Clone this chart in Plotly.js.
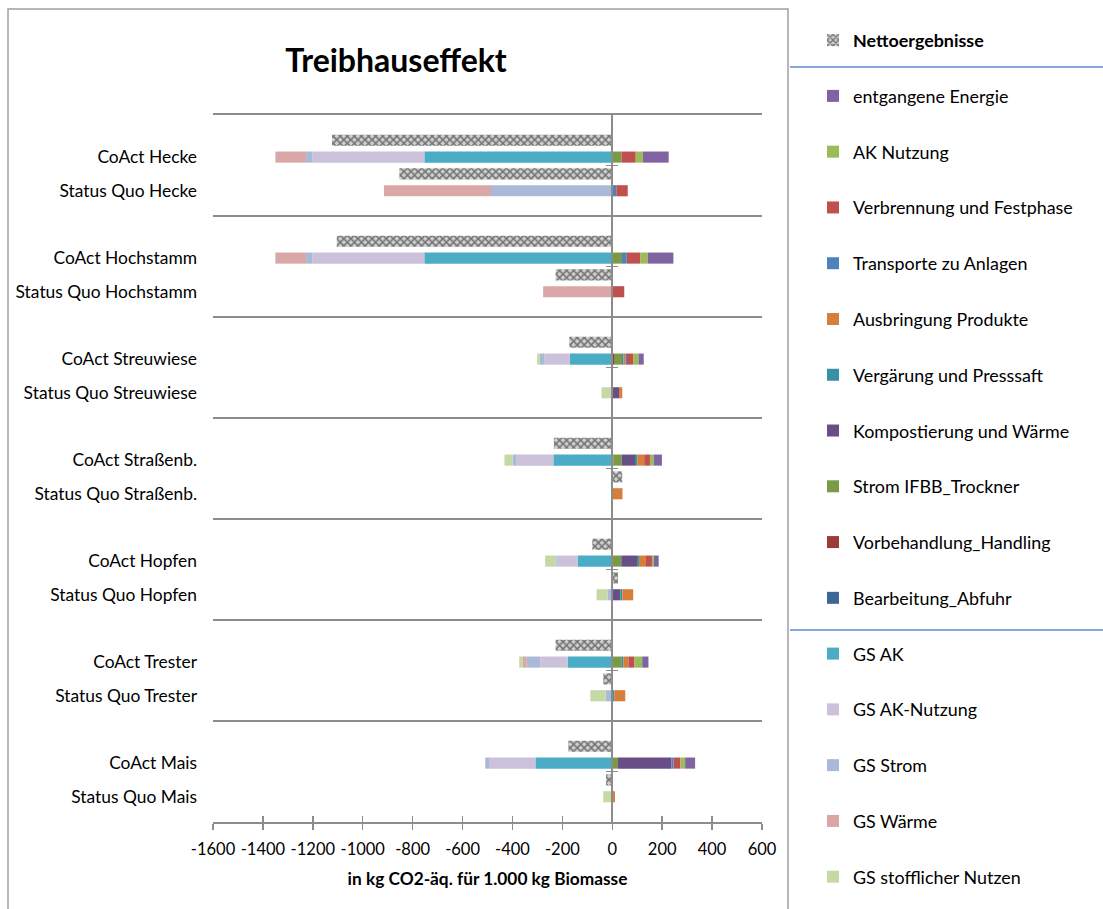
<!DOCTYPE html>
<html><head><meta charset="utf-8">
<script src="https://cdn.plot.ly/plotly-3.0.1.min.js"></script>
<style>html,body{margin:0;padding:0;background:#fff}#chart{width:1103px;height:909px}</style>
</head><body><div id="chart"></div>
<script>
// ---- data (kg CO2-äq. für 1.000 kg Biomasse) ----
const groups = ['Hecke','Hochstamm','Streuwiese','Straßenb.','Hopfen','Trester','Mais'];
const scenarios = ['CoAct Hecke','Status Quo Hecke','CoAct Hochstamm','Status Quo Hochstamm',
  'CoAct Streuwiese','Status Quo Streuwiese','CoAct Straßenb.','Status Quo Straßenb.',
  'CoAct Hopfen','Status Quo Hopfen','CoAct Trester','Status Quo Trester','CoAct Mais','Status Quo Mais'];
const netto       = [-1123,-853,-1104,-227,-172,-1,-234,40,-80,23,-227,-36,-176,-25];
const bearbeitung = [0,0,0,0,0,0,0,0,0,0,0,0,0,0];
const vorbehandlung=[0,0,0,0,7,0,5,0,0,0,0,0,0,0];
const stromIFBB   = [37,0,39,0,32,0,33,0,36,0,36,0,23,0];
const kompost     = [0,0,0,0,0,27,53,0,63,32,0,0,214,0];
const vergaerung  = [0,0,0,0,6,0,9,0,8,8,8,8,0,0];
const ausbringung = [0,0,0,0,8,13,28,41,28,44,21,44,0,11];
const transporte  = [0,16,19,0,6,0,0,0,0,0,0,0,9,0];
const verbrennung = [57,46,55,48,26,0,23,0,24,0,24,0,27,0];
const akNutzung   = [29,0,29,0,20,0,15,0,7,0,31,0,19,0];
const entgangen   = [103,0,103,0,21,0,33,0,20,0,25,0,40,0];
const gsAK        = [-753,0,-753,0,-170,0,-236,0,-139,0,-179,0,-308,0];
const gsAKNutzung = [-449,0,-449,0,-103,0,-147,0,-84,0,-109,0,-186,0];
const gsStrom     = [-25,-486,-25,0,-17,0,-16,0,-3,-19,-55,-26,-15,0];
const gsWaerme    = [-123,-429,-123,-277,0,0,0,0,0,0,-17,0,0,0];
const gsStoff     = [0,0,0,0,-11,-43,-33,0,-43,-44,-13,-62,0,-36];
const xTicks = [-1600,-1400,-1200,-1000,-800,-600,-400,-200,0,200,400,600];
const xTickText = ['-1600','-1400','-1200','-1000','-800','-600','-400','-200','0','200','400','600'];

// ---- category slots: per group: blank, Netto CoAct, CoAct, Netto SQ, SQ, blank ----
const cats = [];
groups.forEach((g, gi) => {
  cats.push(g + '_a');
  cats.push('N|' + scenarios[2*gi]);
  cats.push(scenarios[2*gi]);
  cats.push('N|' + scenarios[2*gi+1]);
  cats.push(scenarios[2*gi+1]);
  cats.push(g + '_b');
});
const nettoCats = scenarios.map(s => 'N|' + s);
const boundaries = groups.map((g, gi) => gi*6 - 0.5).concat([groups.length*6 - 0.5]);
const midTicks = groups.map((g, gi) => gi*6 + 2.5);

const FONT = 'Lato, Calibri, "Open Sans", sans-serif';
const series = [
  ['Bearbeitung_Abfuhr', bearbeitung, '#3E6597', 11],
  ['Vorbehandlung_Handling', vorbehandlung, '#9E3B38', 10],
  ['Strom IFBB_Trockner', stromIFBB, '#7A9A45', 9],
  ['Kompostierung und Wärme', kompost, '#674E87', 8],
  ['Vergärung und Presssaft', vergaerung, '#3791A6', 7],
  ['Ausbringung Produkte', ausbringung, '#D67F3A', 6],
  ['Transporte zu Anlagen', transporte, '#4F81BD', 5],
  ['Verbrennung und Festphase', verbrennung, '#C0504D', 4],
  ['AK Nutzung', akNutzung, '#9BBB59', 3],
  ['entgangene Energie', entgangen, '#8064A2', 2],
  ['GS AK', gsAK, '#4BACC6', 12],
  ['GS AK-Nutzung', gsAKNutzung, '#CCC1DA', 13],
  ['GS Strom', gsStrom, '#A9B9D7', 14],
  ['GS Wärme', gsWaerme, '#D9A7A6', 15],
  ['GS stofflicher Nutzen', gsStoff, '#C6D8A4', 16]
];
const BW = 0.66;
const traces = series.map(([name, vals, color, rank]) => ({
  type: 'bar', orientation: 'h', name: name, x: vals, y: scenarios,
  marker: {color: color, line: {width: 0}}, width: BW,
  legendgroup: name, legendrank: rank, hoverinfo: 'x+name'
}));
traces.push({
  type: 'bar', orientation: 'h', name: '<b>Nettoergebnisse</b>', x: netto, y: nettoCats,
  marker: {color: '#c4c4c4', line: {width: 0},
    pattern: {shape: 'x', fgcolor: '#737373', bgcolor: '#cfcfcf', size: 5, solidity: 0.5}},
  width: BW, legendgroup: 'netto', legendrank: 1, hoverinfo: 'x+name'
});
// empty helper traces so the overlay axes (separators, zero line, tick crosses, top line) are drawn
['x2|y', 'x3|y', 'x|y2', 'x|y3', 'x|y4'].forEach(ax => {
  const [xa, ya] = ax.split('|');
  traces.push({type: 'scatter', mode: 'none', x: [null], y: [null], xaxis: xa, yaxis: ya,
    showlegend: false, hoverinfo: 'skip'});
});

const px = v => (v - 213) / 549;
const py = v => (822 - v) / 707;
const shapes = [
  {type:'rect', xref:'paper', yref:'paper', x0:px(8), x1:px(788), y0:py(9), y1:py(930),
   line:{color:'#a0a0a0', width:1.5}},
  {type:'line', xref:'paper', yref:'paper', x0:px(790), x1:px(1103), y0:py(67), y1:py(67),
   line:{color:'#5B8BD0', width:1.3}},
  {type:'line', xref:'paper', yref:'paper', x0:px(790), x1:px(1103), y0:py(630), y1:py(630),
   line:{color:'#5B8BD0', width:1.3}}
];

const yRange = [cats.length - 0.5, -0.5];
const GREY = '#8c8c8c';
const layout = {
  width: 1103, height: 909,
  margin: {l: 213, r: 341, t: 115, b: 87},
  paper_bgcolor: '#fff', plot_bgcolor: 'rgba(0,0,0,0)',
  font: {family: FONT, size: 17, color: '#000'},
  barmode: 'relative', bargap: 0.34,
  title: {text: 'Treibhauseffekt', font: {family: FONT, size: 32, color: '#000', weight: 'bold'},
    x: 396/1103, xref: 'container', xanchor: 'center', y: 1 - 61/909, yref: 'container', yanchor: 'middle'},
  xaxis: {range: [-1600, 600], tickvals: xTicks, ticktext: xTickText, ticks: 'outside', ticklen: 6, tickwidth: 1.5,
    tickcolor: GREY, showline: true, linecolor: GREY, linewidth: 2, showgrid: false,
    zeroline: false, tickfont: {size: 16.5, color: '#000'}, ticklabelstandoff: 5,
    title: {text: 'in kg CO2-äq. für 1.000 kg Biomasse', font: {size: 17.3, color: '#000', weight: 'bold'}, standoff: 15}},
  xaxis2: {overlaying: 'x', anchor: 'y', side: 'bottom', range: [-1600, 600], tickvals: xTicks,
    ticks: 'inside', ticklen: 6, tickwidth: 1.5, tickcolor: GREY, showticklabels: false,
    showgrid: false, zeroline: false, showline: false},
  xaxis3: {overlaying: 'x', anchor: 'y', side: 'top', range: [-1600, 600], ticks: '',
    showticklabels: false, showgrid: false, zeroline: false, showline: true, linecolor: GREY, linewidth: 2},
  yaxis: {type: 'category', categoryorder: 'array', categoryarray: cats, range: yRange,
    tickvals: scenarios, ticktext: scenarios, ticks: '', showgrid: false, zeroline: false,
    showline: false, tickfont: {size: 17.4, color: '#000'}, ticklabelstandoff: 15},
  yaxis2: {overlaying: 'y', type: 'linear', range: yRange, tickvals: boundaries,
    showgrid: true, gridcolor: GREY, gridwidth: 2, showticklabels: false, zeroline: false, ticks: ''},
  yaxis3: {overlaying: 'y', type: 'linear', anchor: 'free', position: 1600/2200, side: 'left',
    range: yRange, tickvals: midTicks, ticks: 'outside', ticklen: 5, tickwidth: 1.5,
    tickcolor: GREY, showticklabels: false, showgrid: false, zeroline: false,
    showline: true, linecolor: GREY, linewidth: 2},
  yaxis4: {overlaying: 'y', type: 'linear', anchor: 'free', position: 1600/2200, side: 'right',
    range: yRange, tickvals: midTicks, ticks: 'outside', ticklen: 5, tickwidth: 1.5,
    tickcolor: GREY, showticklabels: false, showgrid: false, zeroline: false, showline: false},
  legend: {x: 813/1103, xref: 'container', xanchor: 'left', y: 1 - 22/909, yref: 'container', yanchor: 'top',
    traceorder: 'grouped', tracegroupgap: 29.5, maxheight: 909, bgcolor: 'rgba(0,0,0,0)',
    font: {family: FONT, size: 17.9, color: '#000'}},
  shapes: shapes,
  showlegend: true
};
Plotly.newPlot('chart', traces, layout, {displayModeBar: false, staticPlot: true});
</script></body></html>
